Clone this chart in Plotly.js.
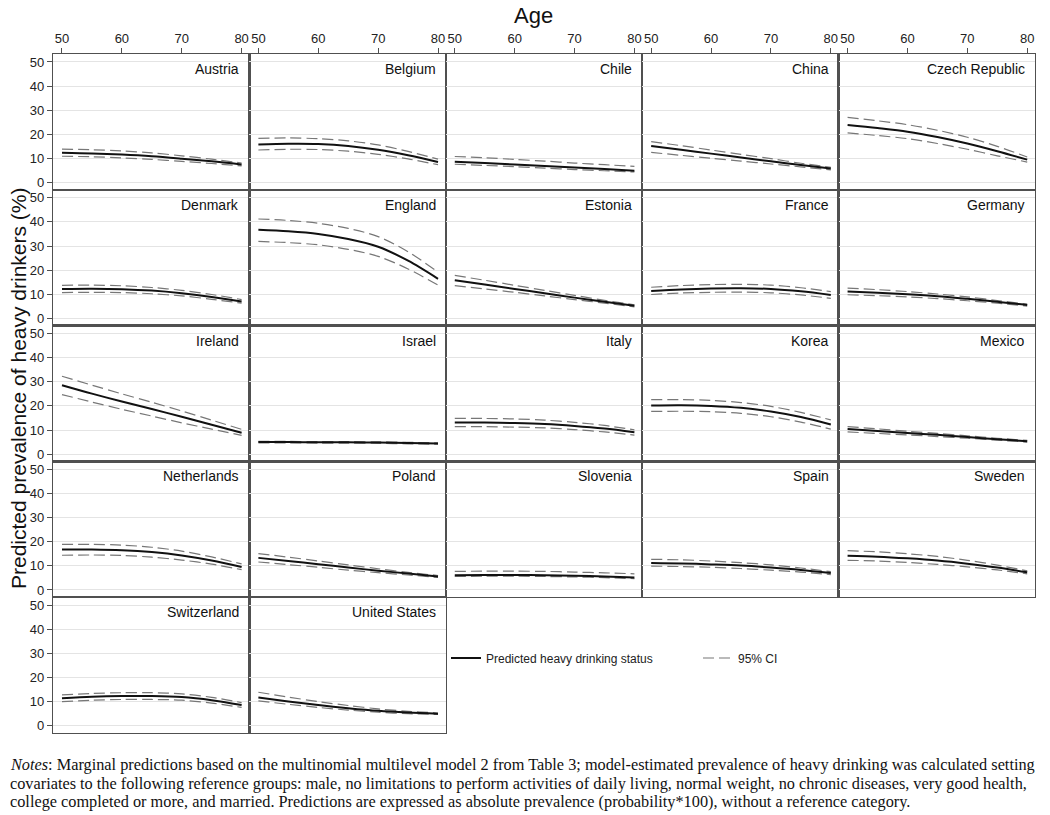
<!DOCTYPE html>
<html>
<head>
<meta charset="utf-8">
<script src="https://cdn.plot.ly/plotly-3.0.1.min.js"></script>
<style>html,body{margin:0;padding:0;background:#fff;}#chart{width:1050px;height:815px;}</style>
</head>
<body>
<div id="chart"></div>
<script>
// ---- data ----
const ages = [50, 55, 60, 65, 70, 75, 80];
const yTicks = [0, 10, 20, 30, 40, 50];
const xTicks = [50, 60, 70, 80];
const countries = ["Austria","Belgium","Chile","China","Czech Republic",
  "Denmark","England","Estonia","France","Germany",
  "Ireland","Israel","Italy","Korea","Mexico",
  "Netherlands","Poland","Slovenia","Spain","Sweden",
  "Switzerland","United States"];
const predicted = [
  [12.4,12.1,11.6,10.9,9.9,8.8,7.5],
  [15.8,16.1,16.0,15.2,13.6,11.3,8.5],
  [8.6,8.1,7.5,6.9,6.2,5.6,4.9],
  [15.2,13.6,12.0,10.4,8.8,7.3,5.8],
  [23.9,22.6,21.1,18.9,16.2,13.0,9.5],
  [12.2,12.3,12.1,11.5,10.4,8.9,7.0],
  [36.7,36.1,35.0,32.9,29.7,23.9,16.4],
  [15.8,14.0,12.2,10.4,8.6,6.9,5.2],
  [11.3,12.0,12.4,12.5,12.2,11.2,9.7],
  [11.1,10.6,10.0,9.2,8.1,6.9,5.5],
  [28.6,25.1,21.8,18.7,15.5,12.2,8.9],
  [5.0,5.0,4.9,4.9,4.8,4.6,4.4],
  [13.1,13.1,12.9,12.5,11.7,10.6,9.1],
  [20.2,20.3,20.0,19.2,17.7,15.4,12.3],
  [10.4,9.6,8.8,8.0,7.1,6.2,5.4],
  [16.8,16.8,16.5,15.7,14.3,12.2,9.5],
  [13.3,12.0,10.7,9.3,8.0,6.8,5.6],
  [6.1,6.2,6.2,6.1,5.9,5.6,5.2],
  [11.2,11.0,10.6,10.1,9.3,8.3,7.0],
  [14.2,13.8,13.1,12.2,10.9,9.3,7.3],
  [11.4,12.0,12.3,12.3,11.9,10.6,8.6],
  [11.7,10.1,8.6,7.3,6.2,5.5,5.0]
];
const upper95 = [
  [13.9,13.6,13.1,12.3,11.1,9.7,8.1],
  [18.3,18.5,18.2,17.3,15.6,12.9,9.7],
  [10.8,10.3,9.6,8.9,8.1,7.4,6.7],
  [17.0,15.3,13.5,11.7,9.9,8.0,6.3],
  [27.0,25.6,24.0,21.7,18.8,15.0,10.6],
  [13.7,13.8,13.5,12.8,11.6,9.9,7.8],
  [41.2,40.6,39.4,37.3,33.9,27.6,19.2],
  [17.8,15.8,13.7,11.6,9.5,7.5,5.6],
  [12.9,13.6,14.0,14.1,13.8,12.7,11.1],
  [12.5,11.9,11.1,10.1,8.9,7.4,5.9],
  [32.3,28.6,25.0,21.5,17.9,14.1,10.3],
  [5.3,5.3,5.2,5.2,5.1,4.9,4.7],
  [14.8,14.8,14.6,14.1,13.2,11.9,10.1],
  [22.6,22.6,22.3,21.4,19.8,17.3,14.2],
  [11.4,10.5,9.5,8.6,7.6,6.6,5.7],
  [18.9,18.9,18.6,17.7,16.1,13.7,10.8],
  [15.1,13.6,12.0,10.4,8.8,7.3,6.0],
  [7.7,7.8,7.8,7.7,7.4,7.1,6.7],
  [12.7,12.5,12.0,11.3,10.4,9.1,7.6],
  [16.3,15.8,15.0,13.9,12.3,10.3,7.9],
  [12.8,13.4,13.7,13.7,13.2,11.8,9.6],
  [13.9,11.9,10.0,8.4,7.0,6.0,5.3]
];
const lower95 = [
  [10.9,10.7,10.2,9.6,8.8,7.9,6.9],
  [13.5,13.8,13.7,13.0,11.7,9.8,7.4],
  [7.6,7.1,6.6,6.0,5.4,4.9,4.4],
  [12.5,11.3,10.1,8.9,7.7,6.5,5.3],
  [20.6,19.5,18.2,16.2,13.8,11.1,8.5],
  [10.7,10.8,10.7,10.2,9.3,7.9,6.3],
  [31.9,31.4,30.5,28.6,25.7,20.5,13.8],
  [13.6,12.2,10.8,9.3,7.8,6.3,4.8],
  [9.9,10.5,10.8,10.9,10.6,9.7,8.3],
  [9.8,9.4,8.9,8.2,7.3,6.3,5.1],
  [24.7,21.6,18.6,15.8,13.0,10.4,7.8],
  [4.7,4.7,4.6,4.6,4.5,4.3,4.1],
  [11.4,11.4,11.2,10.9,10.2,9.2,7.9],
  [17.7,17.8,17.6,16.9,15.5,13.3,10.4],
  [9.2,8.6,8.0,7.3,6.6,5.8,5.0],
  [14.4,14.5,14.3,13.6,12.4,10.7,8.4],
  [11.6,10.5,9.4,8.2,7.2,6.2,5.2],
  [5.6,5.7,5.7,5.6,5.4,5.1,4.7],
  [9.9,9.7,9.4,8.9,8.2,7.4,6.4],
  [12.3,12.0,11.4,10.6,9.6,8.3,6.7],
  [10.0,10.6,10.9,10.9,10.6,9.4,7.6],
  [10.3,8.9,7.6,6.5,5.6,5.0,4.7]
];
const legendLabels = ["Predicted heavy drinking status", "95% CI"];
const xTitle = "Age";
const yTitle = "Predicted prevalence of heavy drinkers (%)";
const notesLines = [
  "<i>Notes</i>: Marginal predictions based on the multinomial multilevel model 2 from Table 3; model-estimated prevalence of heavy drinking was calculated setting",
  "covariates to the following reference groups: male, no limitations to perform activities of daily living, normal weight, no chronic diseases, very good health,",
  "college completed or more, and married. Predictions are expressed as absolute prevalence (probability*100), without a reference category."
];

// ---- geometry ----
const W = 1050, H = 815;
const left0 = 53, colW = 196.4, top0 = 54, rowH = 135.8, nCols = 5;
const frame = '#505050';
const sans = '"Liberation Sans", Arial, Helvetica, sans-serif';

const traces = [];
const layout = {
  width: W, height: H,
  margin: {l: 0, r: 0, t: 0, b: 0},
  paper_bgcolor: '#fff', plot_bgcolor: '#fff',
  font: {family: sans, color: '#222', size: 13},
  showlegend: true,
  legend: {x: 446 / W, y: 1 - 658 / H, xanchor: 'left', yanchor: 'middle',
           orientation: 'h', font: {size: 12, color: '#222', family: sans}, bgcolor: 'rgba(0,0,0,0)'},
  legend2: {x: 698 / W, y: 1 - 658 / H, xanchor: 'left', yanchor: 'middle',
           orientation: 'h', font: {size: 12, color: '#222', family: sans}, bgcolor: 'rgba(0,0,0,0)'},
  annotations: []
};

countries.forEach((name, i) => {
  const n = i + 1;
  const sfx = n === 1 ? '' : String(n);
  const r = Math.floor(i / nCols), c = i % nCols;
  const x0 = left0 + c * colW, x1 = x0 + colW;
  const yt = top0 + r * rowH, yb = yt + rowH;
  const xa = 'x' + sfx, ya = 'y' + sfx;

  traces.push({x: ages, y: upper95[i], xaxis: xa, yaxis: ya, type: 'scatter', mode: 'lines',
    name: legendLabels[1], legend: 'legend2', showlegend: i === 0, hoverinfo: 'skip',
    line: {color: '#777', width: 1.2, dash: '11px,5px', shape: 'spline', smoothing: 0.9}});
  traces.push({x: ages, y: lower95[i], xaxis: xa, yaxis: ya, type: 'scatter', mode: 'lines',
    name: legendLabels[1], legend: 'legend2', showlegend: false, hoverinfo: 'skip',
    line: {color: '#777', width: 1.2, dash: '11px,5px', shape: 'spline', smoothing: 0.9}});
  traces.push({x: ages, y: predicted[i], xaxis: xa, yaxis: ya, type: 'scatter', mode: 'lines',
    name: legendLabels[0], legend: 'legend', showlegend: i === 0, hoverinfo: 'skip',
    line: {color: '#111', width: 2, shape: 'spline', smoothing: 0.9}});

  layout['xaxis' + sfx] = {
    domain: [x0 / W, x1 / W], anchor: ya, range: [48.5, 81.3],
    showgrid: false, zeroline: false, showline: true, mirror: true,
    linecolor: frame, linewidth: 1.2,
    side: 'top', tickvals: xTicks, ticks: r === 0 ? 'outside' : '', ticklen: 5, tickcolor: frame,
    showticklabels: r === 0, tickfont: {size: 13, color: '#222'}, fixedrange: true
  };
  layout['yaxis' + sfx] = {
    domain: [1 - yb / H, 1 - yt / H], anchor: xa, range: [-3, 53.3],
    showgrid: true, gridcolor: '#e4e4e4', gridwidth: 1, zeroline: false,
    showline: true, mirror: true, linecolor: frame, linewidth: 1.2,
    tickvals: yTicks, ticks: c === 0 ? 'outside' : '', ticklen: 5, tickcolor: frame,
    showticklabels: c === 0, tickfont: {size: 13, color: '#222'}, fixedrange: true
  };
  layout.annotations.push({
    text: name, xref: 'paper', yref: 'paper', x: (x1 - 8) / W, y: 1 - (yt + 15) / H,
    xanchor: 'right', yanchor: 'middle', showarrow: false,
    font: {size: 14, color: '#111', family: sans}
  });
});

layout.annotations.push({text: xTitle, xref: 'paper', yref: 'paper', x: 533 / W, y: 1 - 15 / H,
  xanchor: 'center', yanchor: 'middle', showarrow: false, font: {size: 22, color: '#111', family: sans}});
layout.annotations.push({text: yTitle, xref: 'paper', yref: 'paper', x: 18 / W, y: 1 - 388 / H,
  xanchor: 'center', yanchor: 'middle', textangle: -90, showarrow: false,
  font: {size: 21, color: '#111', family: sans}});
const notesY = [764, 783, 801];
notesLines.forEach((t, k) => {
  layout.annotations.push({text: t, xref: 'paper', yref: 'paper', x: 8 / W, y: 1 - notesY[k] / H,
    xanchor: 'left', yanchor: 'middle', align: 'left', showarrow: false,
    font: {size: 16.3, color: '#111', family: '"Liberation Serif", "Times New Roman", serif'}});
});

Plotly.newPlot('chart', traces, layout, {displayModeBar: false, staticPlot: true});
</script>
</body>
</html>
